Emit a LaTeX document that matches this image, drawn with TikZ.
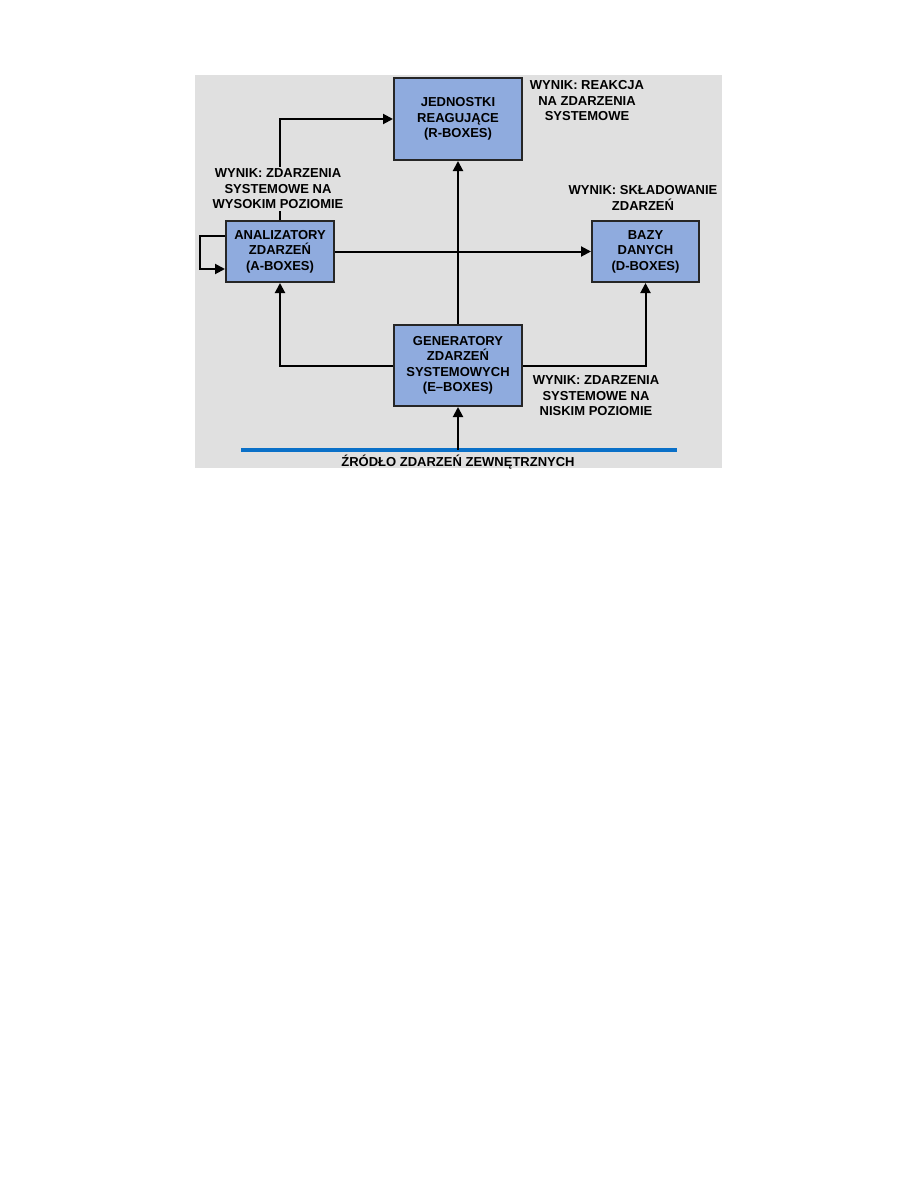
\documentclass[tikz,border=0pt]{standalone}
\usepackage{fontspec}
\setmainfont{Liberation Sans}
\usetikzlibrary{arrows.meta}

\definecolor{boxblue}{RGB}{143,171,222}
\definecolor{bggray}{RGB}{224,224,224}
\definecolor{srcblue}{RGB}{10,112,200}

\begin{document}
\begin{tikzpicture}[x=1pt,y=-1pt,
  box/.style={draw=black!85,line width=2pt,fill=boxblue,align=center,
    font=\fontsize{13}{15.5}\selectfont\bfseries,inner sep=0pt},
  lbl/.style={align=center,font=\fontsize{13}{15.5}\selectfont\bfseries,inner sep=2pt},
  arr/.style={line width=2pt,-{Triangle[length=10pt,width=10pt]}}]
\useasboundingbox (0,0) rectangle (918,1188);
\fill[bggray] (195,75) rectangle (722,468);

\node[box,minimum width=128,minimum height=82] (R) at (458,119) {JEDNOSTKI\\REAGUJĄCE\\(R-BOXES)};
\node[box,minimum width=108,minimum height=61] (A) at (280,251.5) {ANALIZATORY\\ZDARZEŃ\\(A-BOXES)};
\node[box,minimum width=107,minimum height=61] (D) at (645.5,251.5) {BAZY\\DANYCH\\(D-BOXES)};
\node[box,minimum width=128,minimum height=81] (E) at (458,365.5) {GENERATORY\\ZDARZEŃ\\SYSTEMOWYCH\\(E--BOXES)};

% zrodlo zdarzen
\draw[srcblue,line width=3.5pt] (241,450) -- (677,450);
\coordinate (src) at (458,450);
\node[lbl] (srcL) at (458,462) {ŹRÓDŁO ZDARZEŃ ZEWNĘTRZNYCH};

\draw[arr] (src) -- (E);
\draw[arr] (E) -- (R);
\draw[arr] (E.west) -| (A.south);
\draw[arr] (E.east) -| (D.south);
\draw[arr] (A) -- (D);
\draw[arr] (A.north) |- (R.west);
\draw[arr] ([yshift=15.5pt]A.west) -- ++(-25,0) |- ([yshift=-17.5pt]A.west);

% wyniki
\node[lbl,fill=bggray] (hiL) at (278,189) {WYNIK: ZDARZENIA\\SYSTEMOWE NA\\WYSOKIM POZIOMIE};
\node[lbl] (rL) at (587,101) {WYNIK: REAKCJA\\NA ZDARZENIA\\SYSTEMOWE};
\node[lbl] (dL) at (643,198) {WYNIK: SKŁADOWANIE\\ZDARZEŃ};
\node[lbl] (loL) at (596,396) {WYNIK: ZDARZENIA\\SYSTEMOWE NA\\NISKIM POZIOMIE};
\end{tikzpicture}
\end{document}
